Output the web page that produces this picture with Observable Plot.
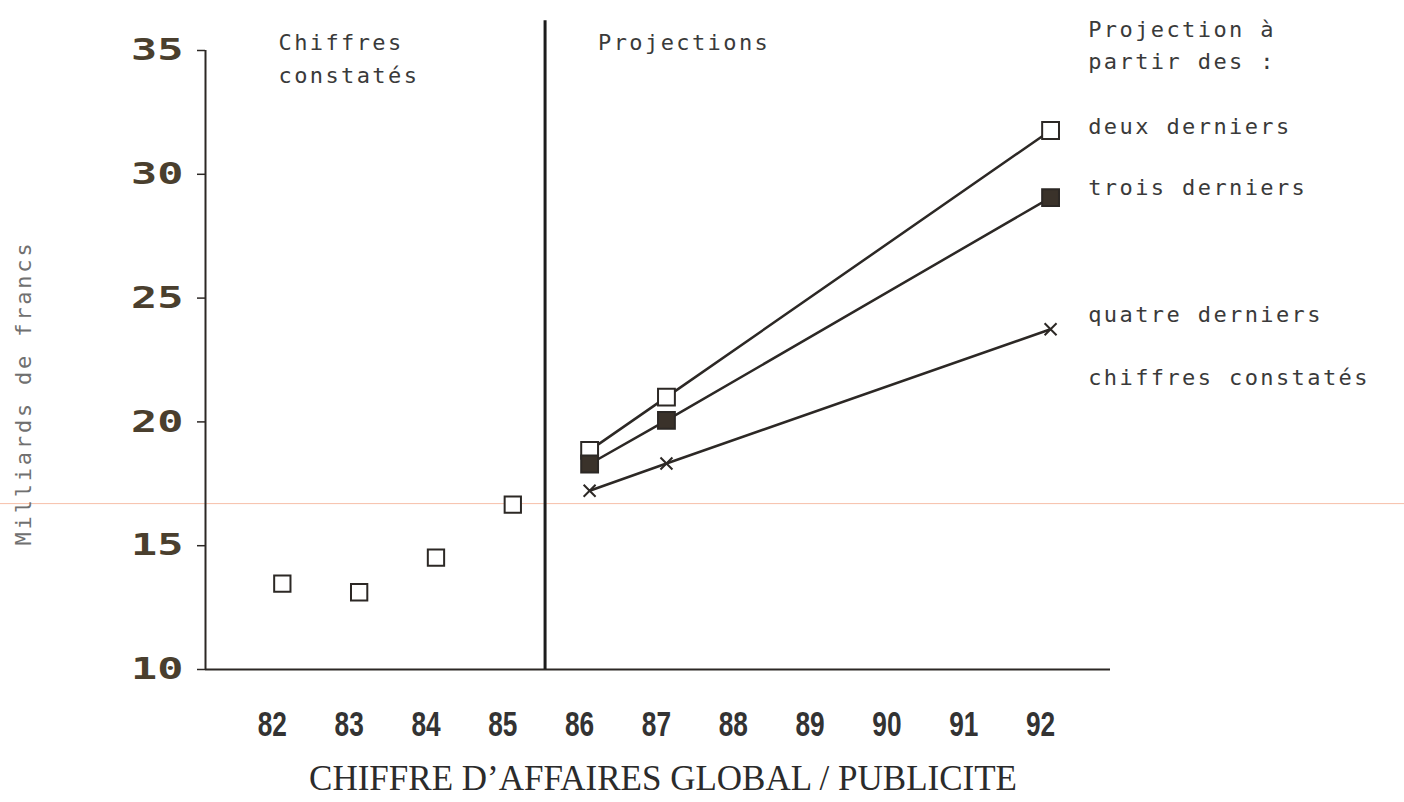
<!DOCTYPE html>
<html><head><meta charset="utf-8">
<script src="https://cdn.jsdelivr.net/npm/d3@7"></script>
<script src="https://cdn.jsdelivr.net/npm/@observablehq/plot@0.6"></script>
<style>
body{margin:0;background:#fff}
</style>
</head><body><div id="chart"></div>
<script>
// ---- data ----
const years = [82, 83, 84, 85, 86, 87, 88, 89, 90, 91, 92];
const yTicks = [10, 15, 20, 25, 30, 35];
const observedYears = [82, 83, 84, 85];
const observedValues = [13.47, 13.12, 14.52, 16.66];
const projYears = [86, 87, 92];
const deuxDerniers = [18.85, 21.0, 31.77];
const troisDerniers = [18.3, 20.06, 29.06];
const quatreDerniers = [17.22, 18.32, 23.74];
const dividerYear = 85.42;
const headerLabels = ["Chiffres", "constatés", "Projections"];
const legendLabels = ["Projection à", "partir des :", "deux derniers", "trois derniers", "quatre derniers", "chiffres constatés"];
const xTitle = "CHIFFRE D’AFFAIRES GLOBAL / PUBLICITE";
const yTitle = "Milliards de francs";

// ---- tables ----
const obs = observedYears.map((x, i) => ({x, y: observedValues[i]}));
const mk = (name, vals) => projYears.map((x, i) => ({s: name, x, y: vals[i]}));
const deux = mk("deux", deuxDerniers);
const trois = mk("trois", troisDerniers);
const quatre = mk("quatre", quatreDerniers);
const allSeries = [...deux, ...trois, ...quatre];

// annotation placement (data coordinates)
const headerPos = [[81.95, 35.32], [81.95, 33.99], [86.11, 35.32]];
const legendPos = [[92.49, 35.81], [92.49, 34.52], [92.49, 31.93], [92.49, 29.43], [92.49, 24.30], [92.49, 21.79]];
const annotations = [
  ...headerLabels.map((t, i) => ({text: t, x: headerPos[i][0], y: headerPos[i][1]})),
  ...legendLabels.map((t, i) => ({text: t, x: legendPos[i][0], y: legendPos[i][1]}))
];

const ink = "#2c2825";
const mono = "'DejaVu Sans Mono', 'Liberation Mono', monospace";

const plot = Plot.plot({
  width: 1404, height: 802,
  marginLeft: 205, marginRight: 294, marginTop: 50, marginBottom: 133,
  x: {domain: [81, 92.78], axis: null},
  y: {domain: [10, 35], axis: null},
  style: {background: "#fff", overflow: "visible"},
  marks: [
    // scanner streak
    Plot.ruleY([{y: 16.7, x1: 78.2, x2: 96.7}], {y: "y", x1: "x1", x2: "x2", stroke: "#ef8a62", strokeOpacity: 0.55, strokeWidth: 1}),
    Plot.axisY({ticks: yTicks, tickSize: 8, tickPadding: 14, fontSize: 30, fontWeight: "bold",
      fontFamily: "'DejaVu Sans Mono', monospace", fill: "#4a3f2e", stroke: ink, strokeWidth: 1.5}),
    Plot.axisX({ticks: years, tickSize: 0, tickPadding: 42, dx: -10, fontSize: 35, fontWeight: "bold",
      fontFamily: "'Liberation Sans', Arial, sans-serif", fill: "#333", tickFormat: d => String(d)}),
    Plot.ruleX([81], {stroke: ink, strokeWidth: 2}),
    Plot.ruleY([10], {stroke: ink, strokeWidth: 2}),
    Plot.ruleX([{x: dividerYear, y1: 10, y2: 36.2}], {x: "x", y1: "y1", y2: "y2", stroke: "#1c1c1c", strokeWidth: 3}),
    Plot.line(allSeries, {x: "x", y: "y", z: "s", stroke: ink, strokeWidth: 2.5}),
    Plot.dot(obs, {x: "x", y: "y", symbol: "square", r: 9.2, stroke: ink, strokeWidth: 2, fill: "white"}),
    Plot.dot(deux, {x: "x", y: "y", symbol: "square", r: 9.5, stroke: ink, strokeWidth: 2, fill: "white"}),
    Plot.dot(trois, {x: "x", y: "y", symbol: "square", r: 9.5, stroke: ink, strokeWidth: 2, fill: "#3a322a"}),
    Plot.dot(quatre, {x: "x", y: "y", symbol: "times", r: 5.5, stroke: ink, strokeWidth: 2}),
    Plot.text(annotations, {x: "x", y: "y", text: "text", textAnchor: "start", fontSize: 22,
      fontFamily: mono, fill: "#3a3a3a"}),
    Plot.text([yTitle], {frameAnchor: "left", textAnchor: "middle", rotate: -90, dx: -182, dy: 33, fontSize: 22,
      fontFamily: mono, fill: "#707070"}),
    Plot.text([xTitle], {frameAnchor: "bottom", textAnchor: "middle", dx: 5, dy: 120, fontSize: 35,
      fontFamily: "'Liberation Serif', 'Times New Roman', serif", fill: "#2b2b2b"})
  ]
});
document.getElementById("chart").appendChild(plot);

// widen the blocky y tick digits and condense the x tick digits
function rescale(sel, sx) {
  d3.select(plot).selectAll(sel).each(function () {
    const t = this.getAttribute("transform") || "";
    this.setAttribute("transform", (t + ` scale(${sx},1)`).trim());
  });
}
rescale('g[aria-label="y-axis tick label"] text', 1.45);
rescale('g[aria-label="x-axis tick label"] text', 0.75);

// typewriter spacing for the annotation texts
const spaced = new Set([...headerLabels, ...legendLabels]);
d3.select(plot).selectAll("text").each(function () {
  const s = this.textContent;
  if (spaced.has(s)) this.style.letterSpacing = "2.4px";
  else if (s === yTitle) this.style.letterSpacing = "2.8px";
});
</script>
</body></html>
